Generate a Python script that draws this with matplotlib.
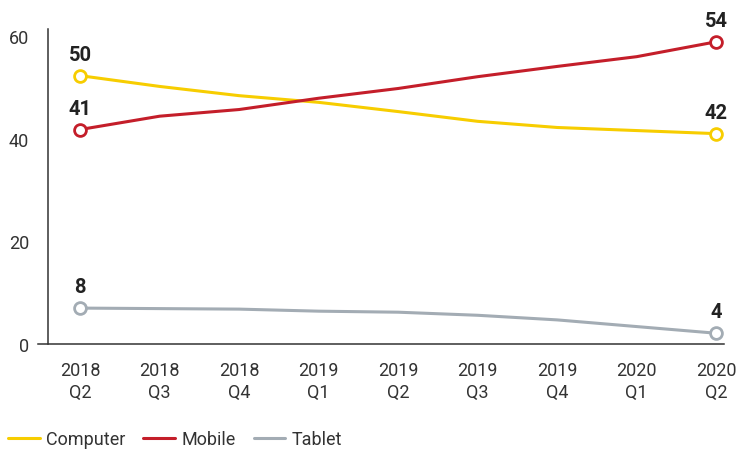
import matplotlib

matplotlib.use("Agg")
import matplotlib.pyplot as plt

plt.rcParams["font.family"] = ["Roboto", "DejaVu Sans"]

QUARTERS = ["2018\nQ2", "2018\nQ3", "2018\nQ4", "2019\nQ1", "2019\nQ2",
            "2019\nQ3", "2019\nQ4", "2020\nQ1", "2020\nQ2"]
COMPUTER = [52.3, 50.2, 48.4, 47.1, 45.3, 43.4, 42.2, 41.6, 41.0]
MOBILE = [41.8, 44.4, 45.7, 47.9, 49.8, 52.1, 54.1, 56.0, 58.9]
TABLET = [7.0, 6.9, 6.8, 6.4, 6.2, 5.6, 4.7, 3.4, 2.1]
# labels printed at the ends of each line
COMPUTER_LABELS = ["50", "42"]
MOBILE_LABELS = ["41", "54"]
TABLET_LABELS = ["8", "4"]
Y_TICKS = [0, 20, 40, 60]

SERIES = [
    ("Computer", COMPUTER, COMPUTER_LABELS, "#F7CD00"),
    ("Mobile", MOBILE, MOBILE_LABELS, "#C41E2A"),
    ("Tablet", TABLET, TABLET_LABELS, "#A3ACB4"),
]

fig = plt.figure(figsize=(7.45, 4.52), dpi=100)
ax = fig.add_axes([0.051, 0.2367, 0.921, 0.697])

x = range(len(QUARTERS))
for name, values, labels, color in SERIES:
    ax.plot(x, values, color=color, lw=2.2, label=name, solid_capstyle="round")
    ends = [0, len(values) - 1]
    ax.plot(ends, [values[i] for i in ends], "o", color=color, mfc="white",
            mew=2, ms=8.5, zorder=4)
    for i, text in zip(ends, labels):
        ax.annotate(text, (i, values[i]), xytext=(0, 8.5), textcoords="offset points",
                    ha="center", va="bottom", fontsize=14.5, fontweight="bold",
                    color="#222222")

ax.set_xlim(-0.53, 8.1)
ax.set_ylim(0, 61.4)
ax.set_xticks(list(x), QUARTERS)
ax.set_yticks(Y_TICKS)
ax.tick_params(axis="both", length=0, labelsize=13, colors="#333333")
ax.tick_params(axis="x", pad=12)
ax.tick_params(axis="y", pad=14)
for lab in ax.get_xticklabels():
    lab.set_linespacing(1.3)

for side in ["top", "right"]:
    ax.spines[side].set_visible(False)
ax.spines["left"].set_position(("data", -0.4))
ax.spines["left"].set_color("#333333")
ax.spines["bottom"].set_color("#333333")
ax.spines["left"].set_linewidth(1.1)
ax.spines["bottom"].set_linewidth(1.1)

fig.legend(loc="lower left", bbox_to_anchor=(0.006, -0.002), ncol=3, frameon=False,
           fontsize=13, handlelength=1.75, handletextpad=0.35, columnspacing=1.0,
           borderaxespad=0.1, borderpad=0.1, labelcolor="#333333")

fig.savefig("out.png", dpi=100)
